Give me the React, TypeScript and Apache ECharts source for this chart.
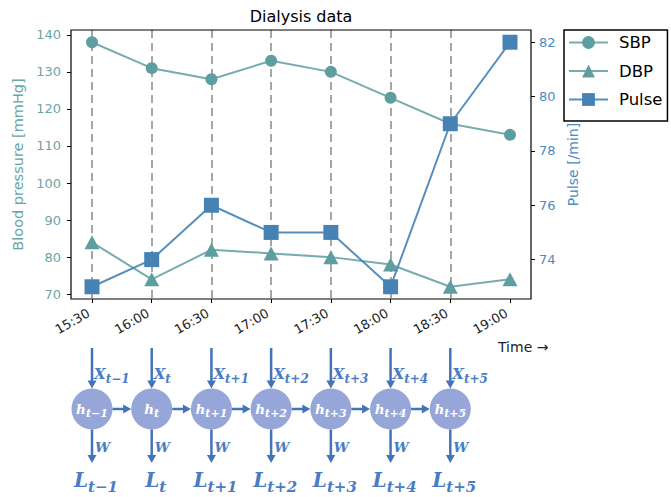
import React, { useEffect, useRef } from "react";
import * as echarts from "echarts";

// ---- data ----
const times = ["15:30", "16:00", "16:30", "17:00", "17:30", "18:00", "18:30", "19:00"];
const sbp = [138, 131, 128, 133, 130, 123, 116, 113];
const dbp = [84, 74, 82, 81, 80, 78, 72, 74];
const pulse = [73, 74, 76, 75, 75, 73, 79, 82];
const bpTicks = [70, 80, 90, 100, 110, 120, 130, 140];
const pulseTicks = [74, 76, 78, 80, 82];
const stepSubs = ["t\u22121", "t", "t+1", "t+2", "t+3", "t+4", "t+5"];

// matplotlib-like 5% autoscale margins
function padExtent(vals: number[]): [number, number] {
  const lo = Math.min(...vals);
  const hi = Math.max(...vals);
  const m = (hi - lo) * 0.05;
  return [lo - m, hi + m];
}
const [bpMin, bpMax] = padExtent([...sbp, ...dbp]);
const [pMin, pMax] = padExtent(pulse);

const TEAL = "#5F9EA0";
const STEEL = "#4682B4";
const TEAL_TXT = "#6aa6a8";
const STEEL_TXT = "#4f89c0";
const ARROW = "#4374BA";
const LBL = "#4A7CC4";
const NODE = "#97A6D8";
const SERIF = '"DejaVu Serif", serif';

let measureCtx: CanvasRenderingContext2D | null = null;
function measure(text: string, size: number) {
  if (!measureCtx) measureCtx = document.createElement("canvas").getContext("2d");
  measureCtx!.font = `italic bold ${size}px ${SERIF}`;
  return measureCtx!.measureText(text).width;
}

function subText(
  x: number,
  baseY: number,
  main: string,
  sub: string,
  mSize: number,
  sSize: number,
  subDrop: number,
  color: string,
  center: boolean
) {
  const w1 = measure(main, mSize);
  const w2 = sub ? measure(sub, sSize) : 0;
  const x0 = center ? x - (w1 + w2) / 2 : x;
  const els: any[] = [
    {
      type: "text",
      x: x0,
      y: baseY - mSize * 0.36,
      z: 20,
      style: {
        text: main,
        fontSize: mSize,
        fontStyle: "italic",
        fontWeight: "bold",
        fontFamily: SERIF,
        fill: color,
        align: "left",
        verticalAlign: "middle",
      },
    },
  ];
  if (sub) {
    els.push({
      type: "text",
      x: x0 + w1,
      y: baseY + subDrop - sSize * 0.36,
      z: 20,
      style: {
        text: sub,
        fontSize: sSize,
        fontStyle: "italic",
        fontWeight: "bold",
        fontFamily: SERIF,
        fill: color,
        align: "left",
        verticalAlign: "middle",
      },
    });
  }
  return els;
}

function arrow(x1: number, y1: number, x2: number, y2: number) {
  const dx = x2 - x1;
  const dy = y2 - y1;
  const len = Math.hypot(dx, dy);
  const ux = dx / len;
  const uy = dy / len;
  const hl = 8;
  const hw = 4.5;
  const bx = x2 - ux * hl;
  const by = y2 - uy * hl;
  return [
    {
      type: "line",
      z: 15,
      shape: { x1, y1, x2: bx + ux, y2: by + uy },
      style: { stroke: ARROW, lineWidth: 2.5 },
    },
    {
      type: "polygon",
      z: 15,
      shape: {
        points: [
          [x2, y2],
          [bx - uy * hw, by + ux * hw],
          [bx + uy * hw, by - ux * hw],
        ],
      },
      style: { fill: ARROW },
    },
  ];
}

function buildGraphics(xs: number[], top: number, bottom: number, left: number, right: number) {
  const g: any[] = [];
  // frame
  g.push({
    type: "rect",
    z: 10,
    shape: { x: left, y: top, width: right - left, height: bottom - top },
    style: { fill: "none", stroke: "#000", lineWidth: 1.2 },
  });
  // title
  g.push({
    type: "text",
    x: (left + right) / 2,
    y: 16,
    style: {
      text: "Dialysis data",
      fontSize: 16,
      fontFamily: "DejaVu Sans",
      fill: "#000",
      align: "center",
      verticalAlign: "middle",
    },
  });
  // time label
  g.push({
    type: "text",
    x: 498,
    y: 347,
    style: {
      text: "Time \u2192",
      fontSize: 14,
      fontFamily: "DejaVu Sans",
      fill: "#222",
      align: "left",
      verticalAlign: "middle",
    },
  });
  const cy = 409;
  const r = 20.5;
  const n = stepSubs.length;
  for (let i = 0; i < n; i++) {
    const x = xs[i];
    g.push({ type: "circle", z: 12, shape: { cx: x, cy, r }, style: { fill: NODE } });
    g.push(...arrow(x, 348, x, cy - r));
    g.push(...arrow(x, cy + r, x, 463));
    if (i < n - 1) g.push(...arrow(x + r, cy, xs[i + 1] - r, cy));
    g.push(...subText(x + 2, 379, "X", stepSubs[i], 15, 12, 4, LBL, false));
    g.push(...subText(x, 414, "h", stepSubs[i], 13.5, 11, 3, "#fff", true));
    g.push(...subText(x + 3, 452, "W", "", 13.5, 11, 0, LBL, false));
    g.push(...subText(x + 4, 487, "L", stepSubs[i], 20, 15, 5, LBL, true));
  }
  return g;
}

export default function App() {
  const ref = useRef<HTMLDivElement>(null);
  useEffect(() => {
    const chart = echarts.init(ref.current!, null, { renderer: "svg" });
    const gridLeft = 92;
    const gridRight = 161;
    const gridTop = 30;
    const gridBottom = 198;
    const offset = 21;
    const option: any = {
      animation: false,
      textStyle: { fontFamily: "DejaVu Sans" },
      grid: { left: gridLeft, right: gridRight, top: gridTop, bottom: gridBottom },
      legend: {
        orient: "vertical",
        left: 564,
        top: 30,
        padding: [4, 5, 13, 4],
        itemGap: 11.5,
        itemWidth: 39,
        itemHeight: 16,
        borderColor: "#000",
        borderWidth: 1.5,
        borderRadius: 0,
        backgroundColor: "#fff",
        z: 20,
        textStyle: {
          fontSize: 16.5,
          lineHeight: 16,
          color: "#000",
          fontFamily: "DejaVu Sans",
          padding: [0, 0, 0, 6],
        },
        data: ["SBP", "DBP", "Pulse"],
      },
      xAxis: {
        type: "category",
        data: times,
        boundaryGap: false,
        axisLine: { show: false },
        axisTick: { show: true, length: 4, lineStyle: { color: "#000", width: 1 } },
        axisLabel: {
          interval: 0,
          rotate: 30,
          margin: 11,
          padding: [0, 4, 0, 0],
          fontSize: 13,
          color: "#222",
        },
        splitLine: {
          show: true,
          interval: (i: number) => i < times.length - 1,
          lineStyle: { color: "#a6a6a6", width: 2, type: [8, 5] },
        },
      },
      yAxis: [
        {
          type: "value",
          position: "left",
          offset,
          min: bpMin,
          max: bpMax,
          axisLine: { show: false },
          axisTick: { show: true, length: 4, lineStyle: { color: "#000" }, customValues: bpTicks },
          axisLabel: { customValues: bpTicks, margin: 10, fontSize: 13, color: TEAL_TXT },
          splitLine: { show: false },
          name: "Blood pressure [mmHg]",
          nameLocation: "middle",
          nameGap: 40,
          nameTextStyle: { fontSize: 14.5, color: TEAL_TXT },
        },
        {
          type: "value",
          position: "right",
          offset,
          min: pMin,
          max: pMax,
          axisLine: { show: false },
          axisTick: { show: true, length: 4, lineStyle: { color: "#000" }, customValues: pulseTicks },
          axisLabel: { customValues: pulseTicks, margin: 8, fontSize: 13, color: STEEL_TXT },
          splitLine: { show: false },
          name: "Pulse [/min]",
          nameLocation: "middle",
          nameGap: 29,
          nameTextStyle: { fontSize: 14, color: STEEL_TXT },
        },
      ],
      series: [
        {
          name: "SBP",
          type: "line",
          data: sbp,
          yAxisIndex: 0,
          symbol: "circle",
          symbolSize: 12,
          itemStyle: { color: TEAL },
          lineStyle: { color: TEAL, width: 2, opacity: 0.85 },
          z: 2,
        },
        {
          name: "DBP",
          type: "line",
          data: dbp,
          yAxisIndex: 0,
          symbol: "triangle",
          symbolSize: [15, 14],
          itemStyle: { color: TEAL },
          lineStyle: { color: TEAL, width: 2, opacity: 0.85 },
          z: 2,
        },
        {
          name: "Pulse",
          type: "line",
          data: pulse,
          yAxisIndex: 1,
          symbol: "rect",
          symbolSize: 15,
          itemStyle: { color: STEEL },
          lineStyle: { color: STEEL, width: 2, opacity: 0.9 },
          z: 3,
        },
      ],
    };
    chart.setOption(option);
    const xs = times.map((t) => chart.convertToPixel({ xAxisIndex: 0 }, t) as number);
    const top = gridTop;
    const bottom = 497 - gridBottom;
    const left = gridLeft - offset;
    const right = 671 - gridRight + offset;
    chart.setOption({ graphic: buildGraphics(xs, top, bottom, left, right) });
    return () => chart.dispose();
  }, []);
  return (
    <div
      ref={ref}
      style={{ position: "absolute", left: 0, top: 0, width: 671, height: 497 }}
    />
  );
}
